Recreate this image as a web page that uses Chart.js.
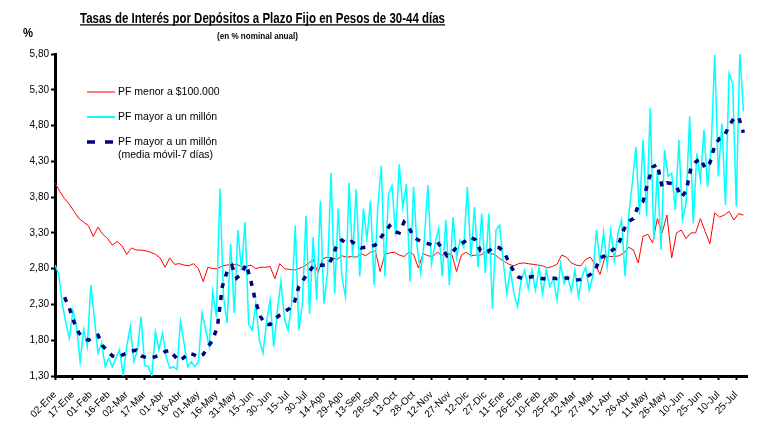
<!DOCTYPE html>
<html>
<head>
<meta charset="utf-8">
<script src="https://cdn.jsdelivr.net/npm/chart.js@4.4.1/dist/chart.umd.min.js"></script>
<style>
  html, body { margin: 0; padding: 0; background: #fff; }
  #wrap { width: 757px; height: 423px; }
</style>
</head>
<body>
<div id="wrap"><canvas id="chart" width="757" height="423"></canvas></div>
<script>
// x axis: one label every 15 days, day 0 = 02-Ene
const X_LABELS = ['02-Ene','17-Ene','01-Feb','16-Feb','02-Mar','17-Mar','01-Abr','16-Abr','01-May','16-May',
  '31-May','15-Jun','30-Jun','15-Jul','30-Jul','14-Ago','29-Ago','13-Sep','28-Sep','13-Oct',
  '28-Oct','12-Nov','27-Nov','12-Dic','27-Dic','11-Ene','26-Ene','10-Feb','25-Feb','12-Mar',
  '27-Mar','11-Abr','26-Abr','11-May','26-May','10-Jun','25-Jun','10-Jul','25-Jul'];
const LABEL_EVERY = 15;
const LAST_DAY = 579;
const Y_TICKS = [1.30, 1.80, 2.30, 2.80, 3.30, 3.80, 4.30, 4.80, 5.30, 5.80];

// PF menor a $100.000, one reading every 4 days from day 0
const RED_STEP = 4;
const RED = [
  4.00, 3.88, 3.78, 3.70, 3.60, 3.50, 3.45, 3.40, 3.25, 3.38,
  3.28, 3.22, 3.13, 3.18, 3.12, 3.00, 3.09, 3.06, 3.06, 3.05,
  3.03, 3.00, 2.95, 2.82, 2.95, 2.86, 2.87, 2.85, 2.84, 2.87,
  2.80, 2.62, 2.82, 2.80, 2.80, 2.84, 2.85, 2.86, 2.86, 2.83,
  2.83, 2.85, 2.80, 2.82, 2.82, 2.83, 2.66, 2.87, 2.80, 2.79,
  2.78, 2.80, 2.83, 2.87, 2.93, 2.74, 2.94, 2.96, 2.95, 2.93,
  2.98, 2.96, 2.97, 2.96, 3.01, 2.98, 3.03, 3.05, 2.76, 3.00,
  3.02, 3.03, 2.99, 2.97, 3.03, 3.00, 2.81, 3.01, 2.98, 2.97,
  3.03, 2.99, 3.01, 3.00, 2.76, 2.99, 3.03, 2.98, 2.99, 2.99,
  3.03, 3.01, 3.00, 2.94, 2.90, 2.86, 2.84, 2.87, 2.88, 2.87,
  2.86, 2.85, 2.84, 2.81, 2.83, 2.86, 2.99, 2.96, 2.88, 2.85,
  2.84, 2.93, 2.96, 2.86, 2.72, 2.95, 2.97, 2.97, 2.98, 3.02,
  3.10, 3.06, 2.88, 3.25, 3.28, 3.16, 3.50, 3.30, 3.55, 2.95,
  3.30, 3.34, 3.22, 3.30, 3.30, 3.50, 3.32, 3.15, 3.58, 3.52,
  3.55, 3.60, 3.48, 3.57, 3.55
];

// PF mayor a un millón, one reading every 3 days from day 0
const CYAN_STEP = 3;
const CYAN = [
  2.85, 2.73, 2.32, 2.05, 1.83, 2.22, 1.99, 1.50, 1.95, 1.71,
  2.57, 2.10, 1.62, 1.76, 1.43, 1.55, 1.43, 1.55, 1.67, 1.32,
  1.71, 1.99, 1.50, 1.67, 2.13, 1.45, 1.43, 1.30, 1.92, 1.67,
  1.90, 1.57, 1.41, 1.43, 1.39, 2.06, 1.76, 1.43, 1.50, 1.43,
  1.50, 2.18, 1.95, 1.71, 2.48, 2.13, 3.92, 2.40, 2.04, 3.15,
  2.18, 3.34, 2.78, 3.45, 2.03, 1.94, 2.31, 1.80, 1.62, 2.05,
  2.36, 1.71, 2.20, 2.62, 2.10, 1.94, 2.31, 3.40, 1.94, 2.31,
  3.54, 2.17, 3.24, 2.36, 3.75, 2.31, 2.74, 4.14, 2.45, 3.64,
  2.69, 2.41, 4.00, 2.96, 3.91, 2.69, 3.64, 3.22, 3.75, 2.57,
  3.64, 4.24, 2.69, 3.84, 3.96, 3.26, 4.26, 3.66, 3.98, 2.62,
  3.94, 3.10, 2.74, 3.20, 3.97, 2.87, 3.15, 3.36, 2.69, 3.48,
  2.57, 3.52, 2.96, 3.20, 3.10, 3.94, 2.96, 3.66, 2.82, 3.57,
  2.74, 3.57, 2.24, 3.34, 3.41, 2.91, 2.45, 2.78, 2.45, 2.27,
  2.64, 2.78, 2.52, 2.78, 2.50, 2.82, 2.45, 2.78, 2.55, 2.66,
  2.36, 2.87, 2.59, 2.69, 2.48, 2.78, 2.41, 2.69, 2.82, 2.50,
  2.69, 3.34, 2.90, 3.31, 2.83, 3.34, 2.92, 3.29, 3.48, 2.69,
  3.53, 3.99, 4.50, 3.55, 4.60, 3.53, 5.04, 3.20, 4.18, 3.06,
  4.46, 4.09, 4.13, 3.62, 4.60, 3.48, 3.71, 4.93, 3.43, 4.41,
  4.04, 4.74, 3.94, 4.50, 5.79, 4.09, 4.83, 3.69, 5.53, 5.39,
  3.67, 5.84, 5.00
];

// media móvil 7 días, one reading every 4 days from day 8
const MA_START = 8;
const MA_STEP = 4;
const MA = [
  2.40, 2.25, 2.05, 1.90, 1.84, 1.80, 1.84, 1.87, 1.72, 1.65,
  1.58, 1.56, 1.59, 1.62, 1.65, 1.66, 1.58, 1.56, 1.55, 1.57,
  1.60, 1.64, 1.66, 1.58, 1.51, 1.56, 1.62, 1.60, 1.56, 1.60,
  1.71, 1.80, 2.00, 2.55, 2.76, 2.84, 2.67, 2.73, 2.86, 2.62,
  2.33, 2.13, 2.02, 2.02, 2.10, 2.15, 2.20, 2.24, 2.31, 2.55,
  2.65, 2.75, 2.83, 2.84, 2.85, 2.84, 2.95, 3.14, 3.20, 3.15,
  3.18, 3.14, 3.09, 3.10, 3.11, 3.13, 3.22, 3.31, 3.40, 3.32,
  3.30, 3.45, 3.38, 3.24, 3.20, 3.17, 3.15, 3.13, 3.17, 3.08,
  2.98, 3.02, 3.10, 3.15, 3.19, 3.24, 3.20, 3.05, 3.02, 3.06,
  3.11, 3.09, 3.02, 2.88, 2.76, 2.68, 2.66, 2.68, 2.69, 2.68,
  2.66, 2.66, 2.67, 2.66, 2.67, 2.67, 2.66, 2.64, 2.65, 2.68,
  2.72, 2.78, 2.95, 2.98, 3.03, 3.08, 3.16, 3.35, 3.46, 3.50,
  3.68, 3.74, 4.00, 4.22, 4.26, 3.94, 4.00, 3.99, 3.95, 3.80,
  3.88, 4.20, 4.29, 4.34, 4.20, 4.28, 4.52, 4.62, 4.65, 4.80,
  4.90, 4.92, 4.70
];

const TITLE = 'Tasas de Interés por Depósitos a Plazo Fijo en Pesos de 30-44 días';
const SUBTITLE = '(en % nominal anual)';
const FONT = '"Liberation Sans", Arial, sans-serif';

function toPoints(values, start, step) {
  return values.map((v, i) => ({ x: start + i * step, y: v }));
}

// draw text squeezed to a given width (the original uses a narrow face)
function fitText(ctx, txt, x, y, w, font) {
  ctx.font = font;
  const m = ctx.measureText(txt).width;
  ctx.save();
  ctx.translate(x, y);
  ctx.scale(w / m, 1);
  ctx.textAlign = 'left';
  ctx.textBaseline = 'alphabetic';
  ctx.fillText(txt, 0, 0);
  ctx.restore();
}

const decor = {
  id: 'decor',
  afterDraw(chart) {
    const ctx = chart.ctx;
    ctx.save();
    ctx.fillStyle = '#000';
    ctx.strokeStyle = '#000';

    fitText(ctx, TITLE, 80, 22.5, 365, 'bold 15px ' + FONT);
    ctx.lineWidth = 1.3;
    ctx.beginPath();
    ctx.moveTo(80, 24.8);
    ctx.lineTo(445, 24.8);
    ctx.stroke();

    fitText(ctx, SUBTITLE, 217, 39, 81, 'bold 9px ' + FONT);
    fitText(ctx, '%', 23, 37, 10, 'bold 12px ' + FONT);

    // legend inside the plot
    const rows = [92, 117, 142];
    chart.data.datasets.forEach((ds, i) => {
      const y = rows[i];
      ctx.save();
      ctx.strokeStyle = ds.borderColor;
      ctx.lineWidth = ds.legendWidth;
      if (ds.borderDash) ctx.setLineDash([8, 10]);
      ctx.beginPath();
      ctx.moveTo(87, y);
      ctx.lineTo(ds.borderDash ? 113 : 115, y);
      ctx.stroke();
      ctx.restore();
      ctx.font = '10.5px ' + FONT;
      ctx.textBaseline = 'middle';
      ctx.textAlign = 'left';
      const lines = ds.label.split('\n');
      lines.forEach((t, k) => ctx.fillText(t, 118, y + k * 13));
    });
    ctx.restore();
  }
};

new Chart(document.getElementById('chart'), {
  type: 'line',
  data: {
    datasets: [
      {
        label: 'PF menor a $100.000',
        data: toPoints(RED, 0, RED_STEP),
        borderColor: '#ff0000',
        borderWidth: 1,
        legendWidth: 1,
        order: 3
      },
      {
        label: 'PF mayor a un millón',
        data: toPoints(CYAN, 0, CYAN_STEP),
        borderColor: '#00ffff',
        borderWidth: 1.5,
        legendWidth: 2,
        order: 2
      },
      {
        label: 'PF mayor a un millón\n(media móvil-7 días)',
        data: toPoints(MA, MA_START, MA_STEP),
        borderColor: '#000080',
        borderWidth: 3.5,
        borderDash: [5, 7],
        legendWidth: 3.5,
        order: 1
      }
    ]
  },
  options: {
    responsive: false,
    animation: false,
    devicePixelRatio: 1,
    layout: { padding: { top: 54, right: 10, bottom: 0, left: 0 } },
    elements: { point: { radius: 0 }, line: { tension: 0, fill: false } },
    plugins: { legend: { display: false }, tooltip: { enabled: false } },
    scales: {
      x: {
        type: 'linear',
        min: 0,
        max: LAST_DAY,
        afterBuildTicks(scale) {
          scale.ticks = X_LABELS.map((_, i) => ({ value: i * LABEL_EVERY }));
        },
        afterFit(scale) { scale.height = 47; },
        ticks: {
          autoSkip: false,
          minRotation: 45,
          maxRotation: 45,
          padding: 9,
          color: '#000',
          font: { family: FONT, size: 10 },
          callback: (v) => X_LABELS[Math.round(v / LABEL_EVERY)]
        },
        grid: { drawOnChartArea: false, drawTicks: true, tickLength: 4, tickWidth: 2, tickColor: '#000' },
        border: { display: true, color: '#000', width: 3 }
      },
      y: {
        min: 1.3,
        max: 5.8,
        afterBuildTicks(scale) {
          scale.ticks = Y_TICKS.map(v => ({ value: v }));
        },
        afterFit(scale) { scale.width = 55; },
        ticks: {
          padding: 2,
          color: '#000',
          font: { family: FONT, size: 10 },
          callback: (v) => v.toFixed(2).replace('.', ',')
        },
        grid: { drawOnChartArea: false, drawTicks: true, tickLength: 4, tickWidth: 2, tickColor: '#000' },
        border: { display: true, color: '#000', width: 3 }
      }
    }
  },
  plugins: [decor]
});
</script>
</body>
</html>
